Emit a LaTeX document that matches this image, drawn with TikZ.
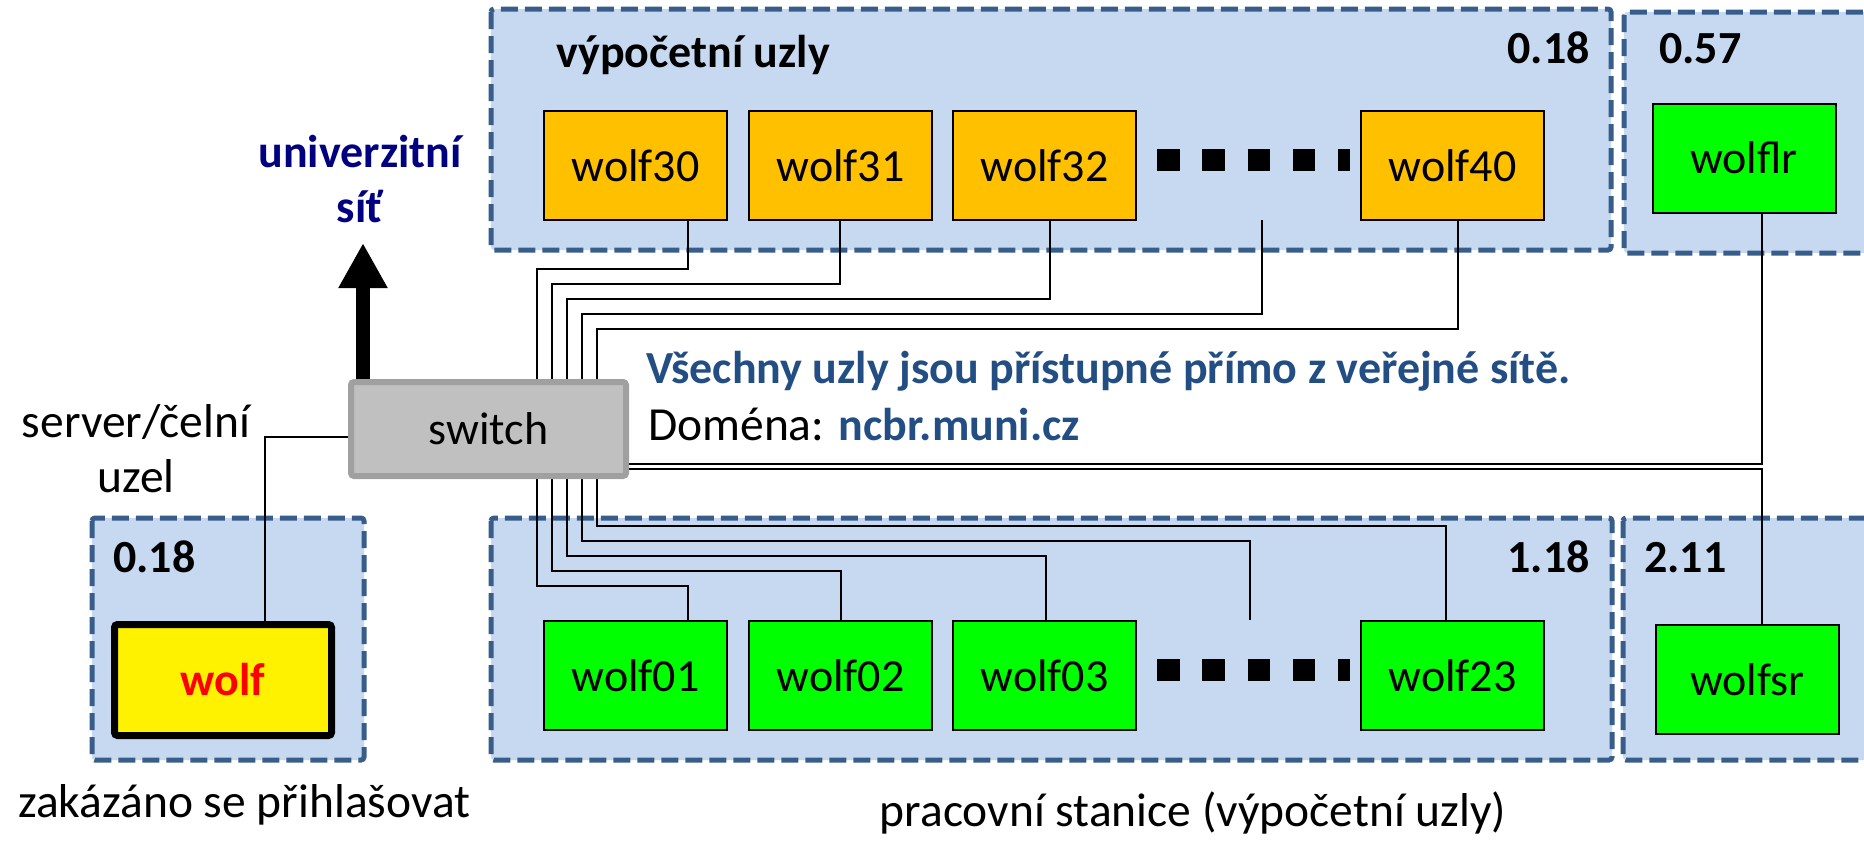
\documentclass[tikz,border=0pt]{standalone}
\usepackage{fontspec}
\setmainfont{Carlito}
\usetikzlibrary{arrows.meta}
\pgfdeclarelayer{panels}
\pgfdeclarelayer{wires}
\pgfsetlayers{panels,wires,main}

\definecolor{panelfill}{HTML}{C6D9F1}
\definecolor{paneledge}{HTML}{385D8A}
\definecolor{nodeorange}{HTML}{FFC000}
\definecolor{nodegreen}{HTML}{00FF00}
\definecolor{textblue}{HTML}{234E84}
\definecolor{netblue}{HTML}{000080}
\definecolor{swfill}{HTML}{C0C0C0}
\definecolor{swedge}{HTML}{A0A0A0}

\newcommand\txtfont{\fontsize{46}{55}\selectfont}
\newcommand\captfont{\fontsize{47.5}{55}\selectfont}

\tikzset{
  panel/.style={fill=panelfill, draw=paneledge, line width=5pt,
    dash pattern=on 17pt off 7pt, rounded corners=3pt},
  host/.style={draw=black, line width=2pt, minimum width=183pt,
    minimum height=109pt, inner sep=0pt, font=\txtfont},
  switchbox/.style={fill=swfill, draw=swedge, line width=6pt,
    minimum width=275pt, minimum height=94pt, rounded corners=3pt,
    inner sep=0pt, font=\txtfont},
  frontend/.style={fill=yellow, draw=black, line width=7pt,
    minimum width=217pt, minimum height=111pt, rounded corners=3pt,
    inner sep=0pt, text=red, font=\txtfont\bfseries},
  txt/.style={inner sep=0pt, font=\captfont},
  btxt/.style={inner sep=0pt, font=\txtfont\bfseries},
  wire/.style={draw=black, line width=2pt},
  ellipsisdots/.style={line width=22pt, dash pattern=on 22.5pt off 22.8pt},
  uplink/.style={line width=14pt, -{Triangle[width=46pt,length=45pt]}},
}

\begin{document}
\begin{tikzpicture}[x=1pt,y=-1pt]
\useasboundingbox (0,0) rectangle (1864,841);

% dashed group frames
\begin{pgfonlayer}{panels}
  \draw[panel] (491,9) rectangle (1611,250);
  \draw[panel] (1624,12) rectangle (1890,253);
  \draw[panel] (92,518) rectangle (364,760);
  \draw[panel] (491,518) rectangle (1612,760);
  \draw[panel] (1623,518) rectangle (1890,760);
\end{pgfonlayer}

% compute nodes (top row)
\node[host, fill=nodeorange] (w30) at (635.5,165.5) {wolf30};
\node[host, fill=nodeorange] (w31) at (840.5,165.5) {wolf31};
\node[host, fill=nodeorange] (w32) at (1044.5,165.5) {wolf32};
\node[host, fill=nodeorange] (w40) at (1452.5,165.5) {wolf40};
\node[host, fill=nodegreen] (wlr) at (1744,158) {wolflr};

% workstations (bottom row)
\node[host, fill=nodegreen] (w01) at (635.5,675.5) {wolf01};
\node[host, fill=nodegreen] (w02) at (840.5,675.5) {wolf02};
\node[host, fill=nodegreen] (w03) at (1044.5,675.5) {wolf03};
\node[host, fill=nodegreen] (w23) at (1452.5,675.5) {wolf23};
\node[host, fill=nodegreen] (wsr) at (1747.5,679.5) {wolfsr};

% elided hosts
\draw[ellipsisdots] (1157,160) -- (1350,160);
\draw[ellipsisdots] (1157,670) -- (1350,670);

% switch and front-end server
\node[switchbox] (sw) at (488.5,429) {switch};
\node[frontend] (wolf) at (223,680) {wolf};

% group labels
\node[btxt, anchor=base west] (lcomp) at (556,67) {výpočetní uzly};
\node[btxt, anchor=base east] (lt1) at (1590,63) {0.18};
\node[btxt, anchor=base west] (lt2) at (1659,63) {0.57};
\node[btxt, anchor=base west] (lb0) at (113,572) {0.18};
\node[btxt, anchor=base east] (lb1) at (1590,572) {1.18};
\node[btxt, anchor=base west] (lb2) at (1644,572) {2.11};

% captions
\node[btxt, text=netblue, anchor=base] (net1) at (360,167) {univerzitní};
\node[btxt, text=netblue, anchor=base] (net2) at (360,222) {síť};
\node[txt, anchor=base] (srv1) at (136,437) {server/čelní};
\node[txt, anchor=base] (srv2) at (136,492) {uzel};
\node[txt, anchor=base west] (deny) at (18,817) {zakázáno se přihlašovat};
\node[txt, anchor=base] (ws) at (1193,826) {pracovní stanice (výpočetní uzly)};
\node[btxt, text=textblue, anchor=base west] (info1) at (646,383)
  {Všechny uzly jsou přístupné přímo z veřejné sítě.};
\node[txt, anchor=base west] (info2) at (648,440)
  {Doména: \textbf{\color{textblue}\txtfont ncbr.muni.cz}};

% cabling
\begin{pgfonlayer}{wires}
  \coordinate (net) at (363,243);
  \draw[uplink] (sw.north -| 363,0) -- (net);

  \draw[wire] (sw.north -| 536.7,0) |- (688,269) -- (w30.south -| 688,0);
  \draw[wire] (sw.north -| 551.7,0) |- (840,284) -- (w31.south -| 840,0);
  \draw[wire] (sw.north -| 566.7,0) |- (1050,299) -- (w32.south -| 1050,0);
  \coordinate (gapT) at (1262,220);
  \draw[wire] (sw.north -| 581.7,0) |- (1262,314) -- (gapT);
  \draw[wire] (sw.north -| 596.7,0) |- (1458,329) -- (w40.south -| 1458,0);

  \draw[wire] (sw.south -| 536.7,0) |- (688,586) -- (w01.north -| 688,0);
  \draw[wire] (sw.south -| 551.7,0) |- (841,571) -- (w02.north -| 841,0);
  \draw[wire] (sw.south -| 566.7,0) |- (1046,556) -- (w03.north -| 1046,0);
  \coordinate (gapB) at (1250,620);
  \draw[wire] (sw.south -| 581.7,0) |- (1250,541) -- (gapB);
  \draw[wire] (sw.south -| 596.7,0) |- (1446,526) -- (w23.north -| 1446,0);

  \draw[wire] (sw.east |- 0,464) -| (wlr.south -| 1762,0);
  \draw[wire] (sw.east |- 0,469) -| (wsr.north -| 1762,0);
  \draw[wire] (sw.west |- 0,437) -| (wolf.north -| 265,0);
\end{pgfonlayer}
\end{tikzpicture}
\end{document}
